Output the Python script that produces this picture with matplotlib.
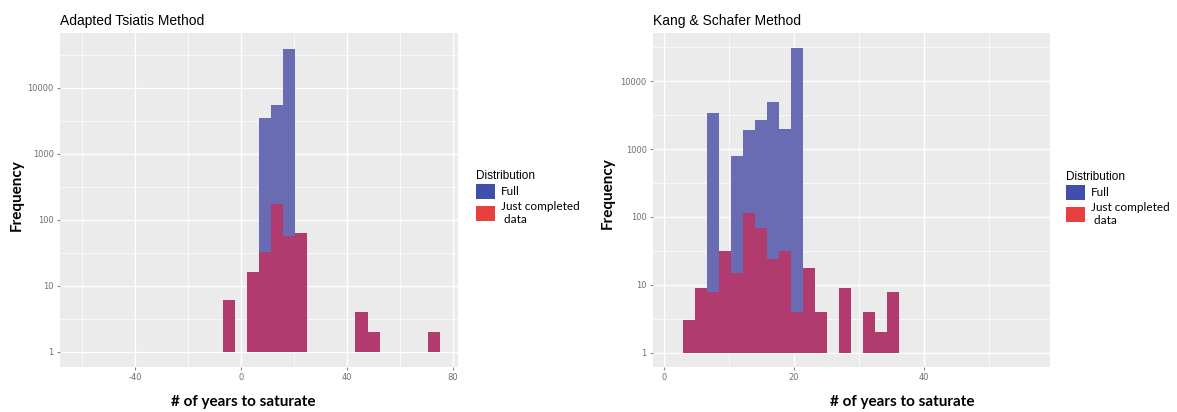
import matplotlib
matplotlib.use("Agg")
import matplotlib.pyplot as plt
from matplotlib.patches import Patch
from matplotlib.ticker import FixedLocator, NullFormatter
import numpy as np

# ---- data: left panel (Adapted Tsiatis) ----
ts_start = -6.85
ts_width = 4.55
ts_full = [6, 0, 16, 3500, 5400, 37800, 63, 0, 0, 0, 0, 4, 2, 0, 0, 0, 0, 2]
ts_done = [6, 0, 16, 33, 174, 57, 63, 0, 0, 0, 0, 4, 2, 0, 0, 0, 0, 2]
ts_xticks = [-40, 0, 40, 80]

# ---- data: right panel (Kang & Schafer) ----
ks_start = 2.87
ks_width = 1.852
ks_full = [3, 9, 3380, 32, 790, 1910, 2690, 4900, 1960, 30300, 18, 4, 0, 9, 0, 4, 2, 8]
ks_done = [3, 9, 8, 32, 15, 116, 69, 24, 32, 4, 18, 4, 0, 9, 0, 4, 2, 8]
ks_xticks = [0, 20, 40]

yticks = [1, 10, 100, 1000, 10000]
ytick_labels = ["1", "10", "100", "1000", "10000"]

BLUE_BAR = "#6a6cb3"
RED_BAR = "#b13a6f"
BLUE_KEY = "#3f4faa"
RED_KEY = "#e8403f"
PANEL = "#ebebeb"
TICK_COL = "#6e6e6e"

fig = plt.figure(figsize=(11.77, 4.12), dpi=100)


def draw_hist(ax, start, width, full, done):
    full = np.array(full, dtype=float)
    done = np.array(done, dtype=float)
    lefts = start + width * np.arange(len(full))
    m = full > 0
    ax.bar(lefts[m], full[m] - 1, width=width, bottom=1, align="edge",
           color=BLUE_BAR, linewidth=0, zorder=2)
    m = done > 0
    ax.bar(lefts[m], done[m] - 1, width=width, bottom=1, align="edge",
           color=RED_BAR, linewidth=0, zorder=3)


def style_axes(ax, xlim, ylim, xticks, xminor):
    ax.set_facecolor(PANEL)
    ax.set_yscale("log")
    ax.set_xlim(*xlim)
    ax.set_ylim(*ylim)
    for s in ax.spines.values():
        s.set_visible(False)
    ax.yaxis.set_major_locator(FixedLocator(yticks))
    ax.set_yticklabels(ytick_labels)
    ax.yaxis.set_minor_locator(FixedLocator([10 ** (k + 0.5) for k in range(-1, 5)]))
    ax.yaxis.set_minor_formatter(NullFormatter())
    ax.set_xticks(xticks)
    ax.set_xticklabels([str(t) for t in xticks])
    ax.xaxis.set_minor_locator(FixedLocator(xminor))
    ax.grid(which="major", color="white", linewidth=1.0, zorder=0)
    ax.grid(which="minor", color="white", linewidth=0.5, zorder=0)
    ax.set_axisbelow(True)
    ax.tick_params(which="major", length=2.5, width=0.8, color="#888888",
                   labelsize=6, labelcolor=TICK_COL, pad=2)
    ax.tick_params(which="minor", length=0)


def add_legend(x, y):
    handles = [Patch(facecolor=BLUE_KEY, edgecolor="none", label="Full"),
               Patch(facecolor=RED_KEY, edgecolor="none", label="Just completed\n data")]
    leg = fig.legend(handles=handles, loc="upper left", bbox_to_anchor=(x, y),
                     frameon=False, title="Distribution", handlelength=1.6,
                     handleheight=1.6, handletextpad=0.5, labelspacing=0.15,
                     borderaxespad=0, borderpad=0,
                     prop={"family": "Lato", "size": 8.5})
    leg.get_title().set_fontsize(8.5)
    leg.get_title().set_family("Liberation Sans")
    leg._legend_box.align = "left"


# left panel
ax1 = fig.add_axes([60 / 1177, 1 - 367 / 412, 398 / 1177, 334 / 412])
draw_hist(ax1, ts_start, ts_width, ts_full, ts_done)
style_axes(ax1, (-68.3, 81.9), (0.59, 67000), ts_xticks, [-60, -20, 20, 60])
ax1.set_title("Adapted Tsiatis Method", loc="left", fontsize=10,
              family="Liberation Sans", pad=6)
fig.text(243 / 1177, 1 - 402 / 412, "# of years to saturate", ha="center",
         va="center", fontsize=11, fontweight="bold", family="Lato")
fig.text(17 / 1177, 1 - 195 / 412, "Frequency", ha="center", va="center",
         rotation=90, fontsize=11, fontweight="bold", family="Lato")
add_legend(476 / 1177, 1 - 170 / 412)

# right panel
ax2 = fig.add_axes([653 / 1177, 1 - 367 / 412, 397 / 1177, 334 / 412])
draw_hist(ax2, ks_start, ks_width, ks_full, ks_done)
style_axes(ax2, (-1.7, 59.4), (0.62, 51000), ks_xticks, [10, 30, 50])
ax2.set_title("Kang & Schafer Method", loc="left", fontsize=10,
              family="Liberation Sans", pad=6)
fig.text(902 / 1177, 1 - 402 / 412, "# of years to saturate", ha="center",
         va="center", fontsize=11, fontweight="bold", family="Lato")
fig.text(608 / 1177, 1 - 193 / 412, "Frequency", ha="center", va="center",
         rotation=90, fontsize=11, fontweight="bold", family="Lato")
add_legend(1066 / 1177, 1 - 171 / 412)

fig.savefig("out.png", dpi=100, facecolor="white")
